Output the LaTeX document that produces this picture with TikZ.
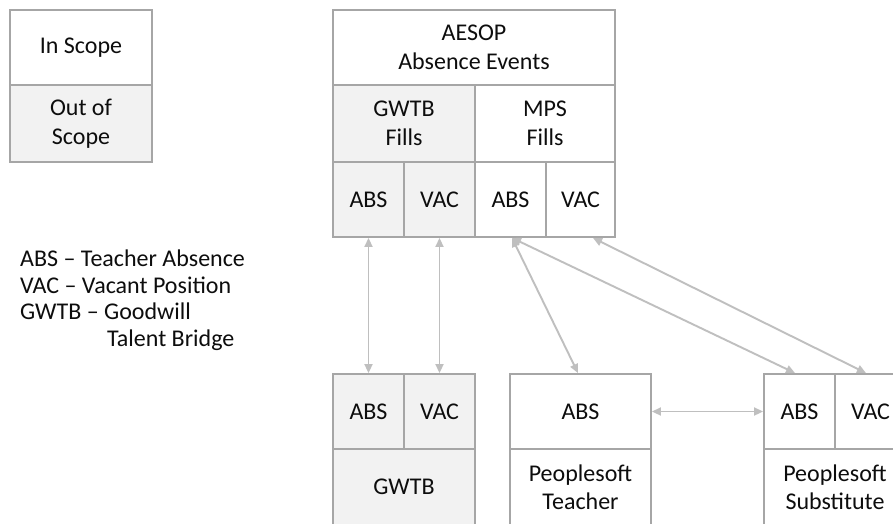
\documentclass[tikz,border=0pt]{standalone}
\usepackage{fontspec}
\setmainfont{Carlito}
\usetikzlibrary{arrows.meta,calc}
\definecolor{boxgray}{HTML}{A6A6A6}
\definecolor{arrowgray}{HTML}{BFBFBF}
\definecolor{fillgray}{HTML}{F2F2F2}
\definecolor{txt}{HTML}{0D0D0D}
\begin{document}
\begin{tikzpicture}[x=1pt,y=-1pt,
  cell/.style={draw=boxgray, line width=1.9pt, inner sep=0pt, align=center,
    text=txt, font=\fontsize{24}{28.5}\selectfont},
  outcell/.style={cell, fill=fillgray},
  link/.style={draw=arrowgray, line width=1.9pt,
    {Triangle[length=9pt,width=8pt]}-{Triangle[length=9pt,width=8pt]}},
  legendtext/.style={inner sep=0pt, align=left, text=txt,
    font=\fontsize{24}{26.5}\selectfont, anchor=north west}]
\useasboundingbox (0,0) rectangle (893,523);
\clip (0,0) rectangle (893,523);
\fill[white] (0,0) rectangle (893,523);

% legend boxes
\node[cell, minimum width=142pt, minimum height=75pt] (inscope) at (81,47.5) {In Scope};
\node[outcell, minimum width=142pt, minimum height=77pt] (outscope) at (81,123.5) {Out of\\Scope};

% legend text
\node[legendtext] (legend) at (20,250) {ABS -- Teacher Absence\\VAC -- Vacant Position\\GWTB -- Goodwill\\\phantom{GWTB -- }\hspace{3pt}Talent Bridge};

% AESOP block
\node[cell, minimum width=282pt, minimum height=75pt] (aesop) at (474,47.5) {AESOP\\Absence Events};
\node[outcell, minimum width=142pt, minimum height=77pt] (gfills) at (404,123.5) {GWTB\\Fills};
\node[cell, minimum width=140pt, minimum height=77pt] (mfills) at (545,123.5) {MPS\\Fills};
\node[outcell, minimum width=71pt, minimum height=75pt] (gabs) at (368.5,199.5) {ABS};
\node[outcell, minimum width=71pt, minimum height=75pt] (gvac) at (439.5,199.5) {VAC};
\node[cell, minimum width=71pt, minimum height=75pt] (mabs) at (510.5,199.5) {ABS};
\node[cell, minimum width=69pt, minimum height=75pt] (mvac) at (580.5,199.5) {VAC};

% GWTB block
\node[outcell, minimum width=71pt, minimum height=75pt] (bgabs) at (368.5,411.5) {ABS};
\node[outcell, minimum width=71pt, minimum height=75pt] (bgvac) at (439.5,411.5) {VAC};
\node[outcell, minimum width=142pt, minimum height=76pt] (gwtb) at (404,487) {GWTB};

% Peoplesoft Teacher
\node[cell, minimum width=141pt, minimum height=75pt] (tabs) at (580.5,411.5) {ABS};
\node[cell, minimum width=141pt, minimum height=76pt] (teacher) at (580.5,487) {Peoplesoft\\Teacher};

% Peoplesoft Substitute
\node[cell, minimum width=71pt, minimum height=75pt] (sabs) at (799.5,411.5) {ABS};
\node[cell, minimum width=71pt, minimum height=75pt] (svac) at (870.5,411.5) {VAC};
\node[cell, minimum width=142pt, minimum height=76pt] (sub) at (835,487) {Peoplesoft\\Substitute};

% connectors
\draw[link] (gabs.south) -- (bgabs.north);
\draw[link] (gvac.south) -- (bgvac.north);
\draw[link] ($(mabs.south)+(1.5,0)$) -- ($(tabs.north)+(-2.5,0)$);
\draw[link] ($(mabs.south)+(1.5,0)$) -- ($(sabs.north)+(-4.5,0)$);
\draw[link] ($(mvac.south)+(12.5,0)$) -- ($(svac.north)+(-4.5,0)$);
\draw[link] (tabs.east) -- (sabs.west);
\end{tikzpicture}
\end{document}
